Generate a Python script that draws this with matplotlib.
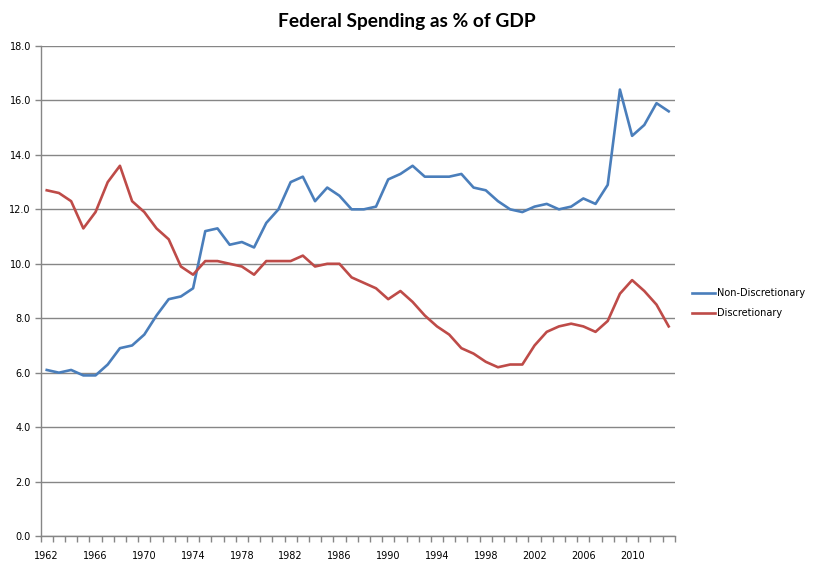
import numpy as np
import matplotlib.pyplot as plt

years = np.arange(1962, 2014)

nonDiscretionary = [
    6.1, 6.0, 6.1, 5.9, 5.9, 6.3, 6.9, 7.0, 7.4, 8.1,
    8.7, 8.8, 9.1, 11.2, 11.3, 10.7, 10.8, 10.6, 11.5, 12.0,
    13.0, 13.2, 12.3, 12.8, 12.5, 12.0, 12.0, 12.1, 13.1, 13.3,
    13.6, 13.2, 13.2, 13.2, 13.3, 12.8, 12.7, 12.3, 12.0, 11.9,
    12.1, 12.2, 12.0, 12.1, 12.4, 12.2, 12.9, 16.4, 14.7, 15.1,
    15.9, 15.6,
]

discretionary = [
    12.7, 12.6, 12.3, 11.3, 11.9, 13.0, 13.6, 12.3, 11.9, 11.3,
    10.9, 9.9, 9.6, 10.1, 10.1, 10.0, 9.9, 9.6, 10.1, 10.1,
    10.1, 10.3, 9.9, 10.0, 10.0, 9.5, 9.3, 9.1, 8.7, 9.0,
    8.6, 8.1, 7.7, 7.4, 6.9, 6.7, 6.4, 6.2, 6.3, 6.3,
    7.0, 7.5, 7.7, 7.8, 7.7, 7.5, 7.9, 8.9, 9.4, 9.0,
    8.5, 7.7,
]

yTicks = np.arange(0, 18.1, 2)
xLabelYears = np.arange(1962, 2011, 4)

# style
blue = '#4A7EBB'
red = '#BE4B48'
gray = '#868686'
tickFont = 'DejaVu Sans'
tickSize = 7

fig = plt.figure(figsize = (8.13, 5.68), dpi = 100)
ax = fig.add_axes([0.050, 0.0563, 0.780, 0.8627])

ax.plot(years, nonDiscretionary, color = blue, lw = 1.9, label = 'Non-Discretionary', zorder = 3)
ax.plot(years, discretionary, color = red, lw = 1.9, label = 'Discretionary', zorder = 3)

ax.set_xlim(years[0] - 0.5, years[-1] + 0.5)
ax.set_ylim(0, 18)

ax.set_yticks(yTicks)
ax.set_yticklabels([f'{v:.1f}' for v in yTicks], fontsize = tickSize, family = tickFont)
ax.yaxis.grid(True, color = gray, lw = 1)
ax.set_axisbelow(True)
ax.tick_params(axis = 'y', length = 4, width = 1, color = gray, pad = 3)

ax.set_xticks(xLabelYears)
ax.set_xticklabels([str(y) for y in xLabelYears], fontsize = tickSize, family = tickFont)
ax.set_xticks(np.arange(years[0] - 0.5, years[-1] + 1), minor = True)
ax.tick_params(axis = 'x', which = 'major', length = 0, pad = 11)
ax.tick_params(axis = 'x', which = 'minor', length = 4, width = 1, color = gray)

for side in ['top', 'right']:
    ax.spines[side].set_visible(False)
for side in ['left', 'bottom']:
    ax.spines[side].set_color(gray)
    ax.spines[side].set_linewidth(1)

fig.text(0.5, 0.962, 'Federal Spending as % of GDP', ha = 'center', va = 'center',
         fontsize = 13.8, family = 'Lato', weight = 'bold')

ax.legend(loc = 'center left', bbox_to_anchor = (0.851, 0.466), bbox_transform = fig.transFigure,
          frameon = False, prop = {'family': tickFont, 'size': tickSize},
          handlelength = 2.4, handletextpad = 0.2, labelspacing = 1.0, borderpad = 0, borderaxespad = 0)

plt.savefig('out.png', dpi = 100)
